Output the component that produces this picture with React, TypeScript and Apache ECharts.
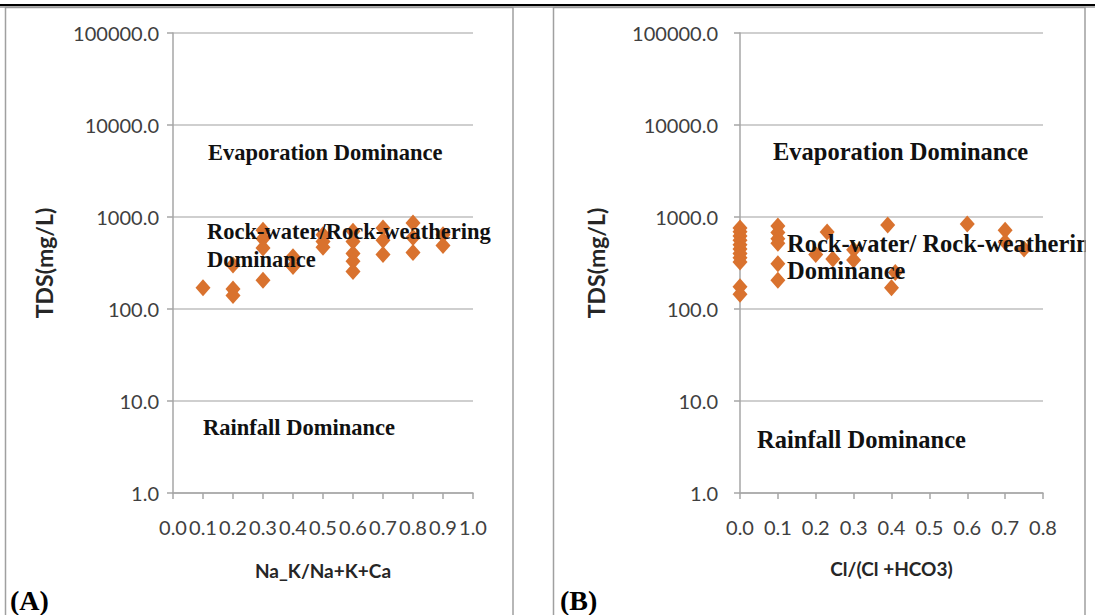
import React, { useEffect, useRef } from "react";
import * as echarts from "echarts";

// Panel A: Na_K/(Na+K+Ca) vs TDS
const ratioA: number[] = [
  0.1,
  0.2, 0.2, 0.2,
  0.3, 0.3, 0.3, 0.3,
  0.4, 0.4,
  0.5, 0.5, 0.5,
  0.6, 0.6, 0.6, 0.6, 0.6,
  0.7, 0.7, 0.7,
  0.8, 0.8, 0.8,
  0.9, 0.9,
];
const tdsA: number[] = [
  170,
  300, 165, 140,
  720, 580, 460, 205,
  370, 290,
  640, 540, 470,
  700, 540, 400, 330, 255,
  760, 560, 390,
  860, 600, 410,
  640, 490,
];

// Panel B: Cl/(Cl+HCO3) vs TDS
const ratioB: number[] = [
  0, 0, 0, 0, 0, 0, 0, 0, 0, 0, 0,
  0.1, 0.1, 0.1, 0.1, 0.1, 0.1,
  0.23, 0.2, 0.245, 0.3, 0.3,
  0.39, 0.41, 0.4,
  0.6, 0.7, 0.7, 0.75,
];
const tdsB: number[] = [
  760, 690, 620, 560, 500, 450, 400, 360, 325, 175, 145,
  800, 680, 580, 520, 310, 205,
  685, 390, 350, 440, 340,
  820, 250, 170,
  840, 720, 535, 450,
];

const yTitle = "TDS(mg/L)";
const xTitleA = "Na_K/Na+K+Ca";
const xTitleB = "Cl/(Cl +HCO3)";
const zoneLabels = ["Evaporation Dominance", "Rock-water/Rock-weathering", "Dominance", "Rainfall Dominance"];
const zoneLabelsB = ["Evaporation Dominance", "Rock-water/ Rock-weathering", "Dominance", "Rainfall Dominance"];
const panelTags = ["(A)", "(B)"];

const MARKER = "#D9722E";
const AXIS = "#a6a6a6";
const GRID = "#bfbfbf";
const LABEL = "#404040";
const SANS = "Lato, 'Open Sans', sans-serif";
const SERIF = "'Liberation Serif', 'DejaVu Serif', serif";

function xAxisFor(gridIndex: number, max: number, name: string, nameGap: number) {
  return {
    type: "value",
    gridIndex,
    min: 0,
    max,
    interval: 0.1,
    axisLine: { show: true, onZero: false, lineStyle: { color: AXIS, width: 1.5 } },
    axisTick: { show: true, length: 6, lineStyle: { color: AXIS, width: 1.5 } },
    splitLine: { show: false },
    axisLabel: {
      formatter: (v: number) => v.toFixed(1),
      fontFamily: SANS,
      fontSize: 20,
      color: LABEL,
      margin: 24,
      showMinLabel: true,
      showMaxLabel: true,
    },
    name,
    nameLocation: "middle",
    nameGap,
    nameTextStyle: { fontFamily: SANS, fontSize: 19, fontWeight: "bold", color: "#262626" },
  };
}

function yAxisFor(gridIndex: number, margin: number, nameGap: number) {
  return {
    type: "log",
    logBase: 10,
    gridIndex,
    min: 1,
    max: 100000,
    axisLine: { show: true, lineStyle: { color: AXIS, width: 1.5 } },
    axisTick: { show: true, length: 6, lineStyle: { color: AXIS, width: 1.5 } },
    splitLine: { show: true, lineStyle: { color: GRID, width: 1.5 } },
    minorTick: { show: false },
    axisLabel: {
      formatter: (v: number) => Number(v).toFixed(1),
      fontFamily: SANS,
      fontSize: 20,
      color: LABEL,
      margin,
    },
    name: yTitle,
    nameLocation: "middle",
    nameRotate: 90,
    nameGap,
    nameTextStyle: { fontFamily: SANS, fontSize: 23, fontWeight: "bold", color: "#262626" },
  };
}

function zoneText(x: number, y: number, text: string, size: number) {
  return {
    type: "text",
    x,
    y,
    z: 100,
    style: {
      text,
      fill: "#111",
      font: `bold ${size}px ${SERIF}`,
      textAlign: "left",
      textVerticalAlign: "middle",
    },
  };
}

export default function App() {
  const ref = useRef<HTMLDivElement>(null);

  useEffect(() => {
    document.body.style.margin = "0";
    if (!ref.current) return;
    const chart = echarts.init(ref.current, undefined, { renderer: "svg" });

    const dataA = ratioA.map((x, i) => [x, tdsA[i]]);
    const dataB = ratioB.map((x, i) => [x, tdsB[i]]);

    chart.setOption({
      animation: false,
      backgroundColor: "#ffffff",
      grid: [
        { left: 173, top: 33, width: 300, height: 460 },
        { left: 740, top: 33, width: 303, height: 460 },
      ],
      xAxis: [xAxisFor(0, 1, xTitleA, 68), xAxisFor(1, 0.8, xTitleB, 66)],
      yAxis: [yAxisFor(0, 14, 118), yAxisFor(1, 22, 133)],
      series: [
        {
          type: "scatter",
          xAxisIndex: 0,
          yAxisIndex: 0,
          data: dataA,
          symbol: "diamond",
          symbolSize: [15, 17],
          itemStyle: { color: MARKER, opacity: 1 },
          z: 5,
        },
        {
          type: "scatter",
          xAxisIndex: 1,
          yAxisIndex: 1,
          data: dataB,
          symbol: "diamond",
          symbolSize: [15, 17],
          itemStyle: { color: MARKER, opacity: 1 },
          z: 5,
        },
      ],
      graphic: [
        // top rule with shadow
        { type: "line", z: 120, shape: { x1: 0, y1: 7, x2: 1095, y2: 7 }, style: { stroke: "#9a9a9a", lineWidth: 1.5 } },
        { type: "line", z: 121, shape: { x1: 0, y1: 5, x2: 1095, y2: 5 }, style: { stroke: "#000", lineWidth: 2 } },
        // zone labels panel A
        zoneText(208, 152, zoneLabels[0], 22.5),
        zoneText(207, 231, zoneLabels[1], 22.5),
        zoneText(207, 259, zoneLabels[2], 22.5),
        zoneText(203, 427, zoneLabels[3], 22.5),
        // zone labels panel B
        zoneText(773, 151, zoneLabelsB[0], 24.5),
        zoneText(787, 243, zoneLabelsB[1], 24.5),
        zoneText(787, 270, zoneLabelsB[2], 24.5),
        zoneText(757, 439, zoneLabelsB[3], 24.5),
        // mask overflow beyond right panel
        { type: "rect", z: 110, shape: { x: 1086, y: 8, width: 9, height: 607 }, style: { fill: "#fff" } },
        // panel borders
        {
          type: "rect",
          z: 115,
          shape: { x: 5.5, y: 7.5, width: 507.5, height: 620 },
          style: { fill: "none", stroke: "#a0a0a0", lineWidth: 1.5 },
        },
        {
          type: "rect",
          z: 115,
          shape: { x: 553.5, y: 7.5, width: 531.5, height: 620 },
          style: { fill: "none", stroke: "#a0a0a0", lineWidth: 1.5 },
        },
        // panel tags
        {
          type: "text",
          x: 10,
          y: 600,
          z: 116,
          style: { text: panelTags[0], fill: "#000", font: `bold 28px ${SERIF}`, textAlign: "left", textVerticalAlign: "middle" },
        },
        {
          type: "text",
          x: 560,
          y: 600,
          z: 116,
          style: { text: panelTags[1], fill: "#000", font: `bold 28px ${SERIF}`, textAlign: "left", textVerticalAlign: "middle" },
        },
      ],
    });

    return () => {
      chart.dispose();
    };
  }, []);

  return <div ref={ref} style={{ width: 1095, height: 615 }} />;
}
